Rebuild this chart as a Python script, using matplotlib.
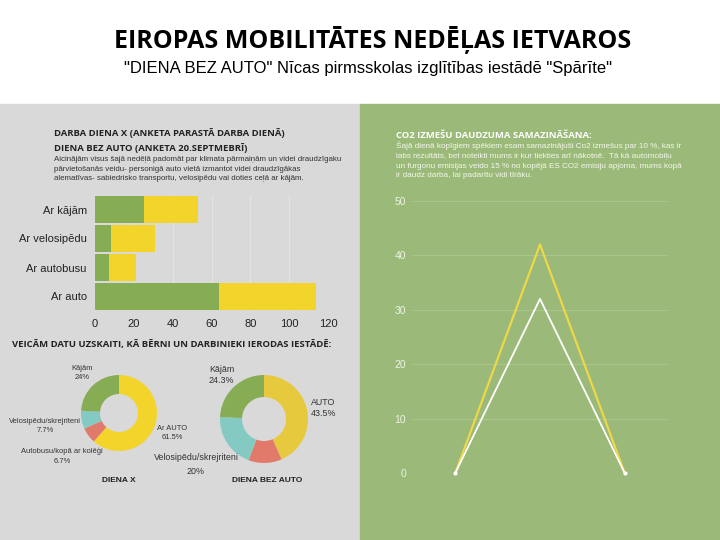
import matplotlib
matplotlib.use("Agg")
import matplotlib.pyplot as plt
from matplotlib.patches import Rectangle

# ------------------------------------------------------------
# data read off the infographic
# ------------------------------------------------------------
bar_categories = ["Ar kājām", "Ar velosipēdu", "Ar autobusu", "Ar auto"]
diena_x = [25, 8, 7, 64]          # green, ordinary work day
diena_bez_auto = [28, 23, 14, 50]  # yellow, car-free day
bar_ticks = [0, 20, 40, 60, 80, 100, 120]

donut1_values = [61.5, 6.7, 7.7, 24.0]   # auto, autobuss, velo, kājām
donut2_values = [43.5, 12.2, 20.0, 24.3]

line_x = [0, 1, 2]
line_yellow = [0, 42, 0]
line_white = [0, 32, 0]
line_ticks = [0, 10, 20, 30, 40, 50]

GREEN = "#86ad53"
YELLOW = "#f3d42b"
RED = "#e27a6b"
CYAN = "#84cac3"
GRAY_BG = "#d9d9d9"
GREEN_BG = "#9bb978"

W, H = 720, 540
fig = plt.figure(figsize=(7.2, 5.4), dpi=100)
fig.patch.set_facecolor("white")


def px(x, y):
    return x / W, 1 - y / H


def box(x0, y0, x1, y1):
    # axes rectangle from pixel corners (top-left, bottom-right)
    return [x0 / W, 1 - y1 / H, (x1 - x0) / W, (y1 - y0) / H]


def txt(x, y, s, **kw):
    fig.text(*px(x, y), s, **kw)


# panels
fig.patches.append(Rectangle((0, 0), 0.5, 1 - 104 / H, transform=fig.transFigure,
                             color=GRAY_BG, zorder=-5))
fig.patches.append(Rectangle((0.5, 0), 0.5, 1 - 104 / H, transform=fig.transFigure,
                             color=GREEN_BG, zorder=-5))

HEAD = "Open Sans"
BODY = "Liberation Sans"

# titles
txt(373, 40, "EIROPAS MOBILITĀTES NEDĒĻAS IETVAROS", ha="center", va="center",
    fontsize=18, fontweight="bold", family=HEAD, color="black")
txt(368, 69, '"DIENA BEZ AUTO" Nīcas pirmsskolas izglītības iestādē "Spārīte"',
    ha="center", va="center", fontsize=12, family=BODY, color="black")

# ------------------------------------------------------------
# left panel: bar chart
# ------------------------------------------------------------
txt(54, 133, "DARBA DIENA X (ANKETA PARASTĀ DARBA DIENĀ)", va="center",
    fontsize=6.8, fontweight="bold", family=HEAD, color="#222222")
txt(54, 148, "DIENA BEZ AUTO (ANKETA 20.SEPTMEBRĪ)", va="center",
    fontsize=6.8, fontweight="bold", family=HEAD, color="#222222")
para_left = ("Aicinājām visus šajā nedēļā padomāt par klimata pārmaiņām un videi draudzīgaku\n"
             "pārvietošanās veidu- personigā auto vietā izmantot videi draudzīgākas\n"
             "alematīvas- sabiedrisko transportu, velosipēdu vai doties ceļā ar kājām.")
txt(54, 156, para_left, va="top", fontsize=5.7, family=BODY, color="#333333",
    linespacing=1.55)

ax = fig.add_axes(box(95, 195, 328, 311))
ax.set_facecolor("none")
ypos = range(len(bar_categories))
ax.barh(ypos, diena_x, height=0.9, color=GREEN, zorder=2)
ax.barh(ypos, diena_bez_auto, left=diena_x, height=0.9, color=YELLOW, zorder=2)
ax.set_xlim(0, 120)
ax.set_ylim(3.5, -0.5)
ax.set_xticks(bar_ticks)
ax.set_yticks(list(ypos))
ax.set_yticklabels(bar_categories)
ax.grid(axis="x", color="#e4e4e4", lw=0.8, zorder=1)
for s in ax.spines.values():
    s.set_visible(False)
ax.tick_params(length=0, labelsize=8, colors="#222222", pad=6)
for lab in ax.get_xticklabels() + ax.get_yticklabels():
    lab.set_family(BODY)

# ------------------------------------------------------------
# left panel: donuts
# ------------------------------------------------------------
txt(12, 345, "VEICĀM DATU UZSKAITI, KĀ BĒRNI UN DARBINIEKI IERODAS IESTĀDĒ:",
    va="center", fontsize=6.8, fontweight="bold", family=HEAD, color="#222222")

colors = [YELLOW, RED, CYAN, GREEN]


def donut(cx, cy, r, values, cols):
    half = r + 2
    a = fig.add_axes(box(cx - half, cy - half, cx + half, cy + half))
    a.pie(values, colors=cols, startangle=90, counterclock=False,
          radius=r / half, wedgeprops=dict(width=0.5 * r / half, linewidth=0))
    a.set_xlim(-1, 1)
    a.set_ylim(-1, 1)
    a.set_aspect("equal")
    a.axis("off")


donut(119, 413, 38, donut1_values, colors)
donut(264, 419, 44, donut2_values, ["#e6c93c", RED, CYAN, GREEN])

small = dict(fontsize=5.4, family=BODY, color="#333333", ha="center", va="center",
             linespacing=1.5)
txt(82, 373, "Kājām\n24%", **small)
txt(45, 426, "Velosipēdu/skrejriteni\n7.7%", **small)
txt(62, 456, "Autobusu/kopā ar kolēģi\n6.7%", **small)
txt(172, 433, "Ar AUTO\n61.5%", **small)
txt(119, 480, "DIENA X", fontsize=6, fontweight="bold", family=BODY,
    color="#222222", ha="center", va="center")

mid = dict(fontsize=6.4, family=BODY, color="#333333", ha="left", va="center",
           linespacing=1.4)
txt(209, 375, "Kājām\n24.3%", **mid)
txt(311, 408, "AUTO\n43.5%", **mid)
txt(196, 458, "Velosipēdu/skrejriteni", fontsize=6.4, family=BODY,
    color="#333333", ha="center", va="center")
txt(196, 471, "20%", fontsize=6.4, family=BODY,
    color="#333333", ha="center", va="center")
txt(267, 480, "DIENA BEZ AUTO", fontsize=6, fontweight="bold", family=BODY,
    color="#222222", ha="center", va="center")

# ------------------------------------------------------------
# right panel: CO2 line chart
# ------------------------------------------------------------
txt(396, 135, "CO2 IZMEŠU DAUDZUMA SAMAZINĀŠANA:", va="center", fontsize=6.8,
    fontweight="bold", family=HEAD, color="white")
para_right = ("Šajā dienā kopīgiem spēkiem esam samazinājuši Co2 izmešus par 10 %, kas ir\n"
              "labs rezultāts, bet noteikti mums ir kur tiekties arī nākotnē.  Tā kā automobiļu\n"
              "un furgonu emisijas veido 15 % no kopējā ES CO2 emisiju apjoma, mums kopā\n"
              "ir daudz darba, lai padarītu vidi tīrāku.")
txt(396, 142, para_right, va="top", fontsize=5.9, family=BODY, color="#f4f7ee",
    linespacing=1.5)

lx = fig.add_axes(box(413, 201, 667, 473))
lx.set_facecolor("none")
lx.plot(line_x, line_yellow, color="#eed84a", lw=1.6, clip_on=False, zorder=3)
lx.plot(line_x, line_white, color="white", lw=1.3, clip_on=False, zorder=4,
        marker="o", markersize=2, markevery=[0, 2])
lx.set_xlim(-0.5, 2.5)
lx.set_ylim(0, 50)
lx.set_yticks(line_ticks)
lx.set_xticks([])
lx.grid(axis="y", color="#aac78b", lw=0.8, zorder=1)
for s in lx.spines.values():
    s.set_visible(False)
lx.tick_params(length=0, labelsize=7.5, colors="#eef3e6", pad=5)
for lab in lx.get_yticklabels():
    lab.set_family(BODY)

fig.savefig("out.png", dpi=100, facecolor=fig.get_facecolor())
